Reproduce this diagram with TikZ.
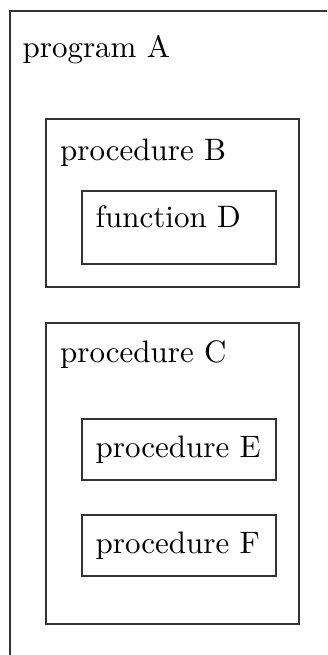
\documentclass[tikz,border=0pt]{standalone}
\usetikzlibrary{fit}
\begin{document}
\begin{tikzpicture}[x=0.3226pt, y=-0.3226pt,
  box/.style={draw=black!80, line width=0.4pt, inner sep=0pt, fit={#1}},
  lbl/.style={anchor=base west, inner sep=0pt, font=\normalsize}]
  \clip (0,0) rectangle (327,655);
  % nested scopes
  \node[box={(10,11) (345,680)}] (A) {};
  \node[box={(46,119) (299,287)}] (B) {};
  \node[box={(82,191) (276,264)}] (D) {};
  \node[box={(46,323) (299,624)}] (C) {};
  \node[box={(82,419) (276,480)}] (E) {};
  \node[box={(82,515) (276,576)}] (F) {};
  % names
  \node[lbl] (tA) at (22,57.5) {program A};
  \node[lbl] (tB) at (59.5,161) {procedure B};
  \node[lbl] (tD) at (95,228) {function D};
  \node[lbl] (tC) at (59.5,363) {procedure C};
  \node[lbl] (tE) at (95,457) {procedure E};
  \node[lbl] (tF) at (95,553) {procedure F};
\end{tikzpicture}
\end{document}
